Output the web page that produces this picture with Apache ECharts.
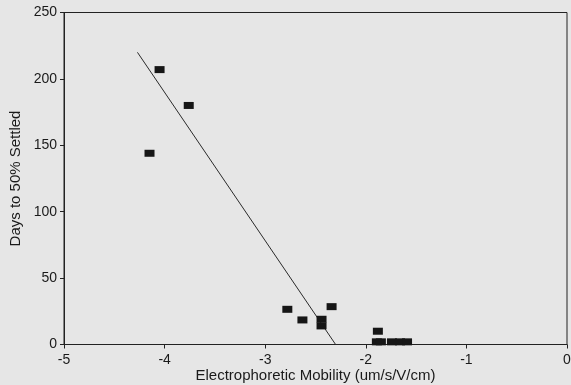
<!DOCTYPE html>
<html>
<head>
<meta charset="utf-8">
<script src="https://cdn.jsdelivr.net/npm/echarts@6/dist/echarts.min.js"></script>
<style>
  html, body { margin: 0; padding: 0; background: #e6e6e6; }
  #chart { width: 571px; height: 385px; }
</style>
</head>
<body>
<div id="chart"></div>
<script>
// Electrophoretic mobility (um/s/V/cm) of each sample
var mobility = [-4.15, -4.05, -3.76, -2.78, -2.63, -2.44, -2.44, -2.34, -1.88, -1.89, -1.85, -1.74, -1.66, -1.59];
// Days until 50% of the suspension had settled
var daysSettled = [144, 207, 180, 26.5, 18.5, 19, 14, 28.5, 10, 2, 2, 2, 2, 2];
// End points of the fitted regression line
var fitX = [-4.27, -2.30];
var fitY = [220, 0];

var points = mobility.map(function (x, i) { return [x, daysSettled[i]]; });
var fitLine = fitX.map(function (x, i) { return [x, fitY[i]]; });

var font = 'Liberation Sans, Arial, Helvetica, sans-serif';
var chart = echarts.init(document.getElementById('chart'), null, { renderer: 'canvas' });
chart.setOption({
  backgroundColor: '#e6e6e6',
  animation: false,
  grid: {
    left: 64, right: 4, top: 12.5, bottom: 40.5,
    outerBoundsMode: 'none',
    containLabel: false,
    show: true, borderColor: '#222', borderWidth: 1
  },
  xAxis: {
    type: 'value', min: -5, max: 0, interval: 1,
    name: 'Electrophoretic Mobility (um/s/V/cm)',
    nameLocation: 'middle', nameGap: 24,
    nameMoveOverlap: false,
    nameTextStyle: { fontFamily: font, fontSize: 15, color: '#1a1a1a' },
    axisLine: { onZero: false, lineStyle: { color: '#222', width: 1 } },
    axisTick: { show: true, length: 4, lineStyle: { color: '#222' } },
    axisLabel: { fontFamily: font, fontSize: 14, color: '#1a1a1a', margin: 9 },
    splitLine: { show: false }
  },
  yAxis: {
    type: 'value', min: 0, max: 250, interval: 50,
    name: 'Days to 50% Settled',
    nameLocation: 'middle', nameGap: 41,
    nameMoveOverlap: false,
    nameTextStyle: { fontFamily: font, fontSize: 15, color: '#1a1a1a' },
    axisLine: { onZero: false, lineStyle: { color: '#222', width: 1 } },
    axisTick: { show: true, length: 4, lineStyle: { color: '#222' } },
    axisLabel: { fontFamily: font, fontSize: 14, color: '#1a1a1a', margin: 7 },
    splitLine: { show: false }
  },
  series: [
    {
      type: 'line',
      data: fitLine,
      symbol: 'none',
      lineStyle: { color: '#2a2a2a', width: 1 },
      z: 2
    },
    {
      type: 'scatter',
      data: points,
      symbol: 'rect',
      symbolSize: [10, 7],
      itemStyle: { color: '#161616', opacity: 1 },
      z: 3
    }
  ]
});
</script>
</body>
</html>
